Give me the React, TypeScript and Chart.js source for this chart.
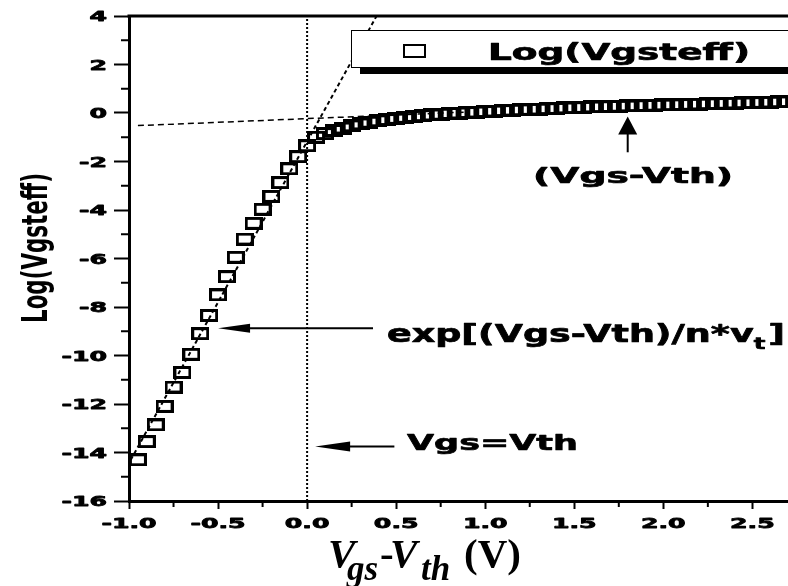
import React, { useEffect, useRef } from 'react';
import { Chart, registerables } from 'chart.js';

Chart.register(...registerables);

// ---- data ----
const vgsMinusVth = [
  -0.95, -0.9, -0.85, -0.8, -0.75, -0.7, -0.65, -0.6, -0.55, -0.5,
  -0.45, -0.4, -0.35, -0.3, -0.25, -0.2, -0.15, -0.1, -0.05, 0.0,
  0.05, 0.1, 0.15, 0.2, 0.25, 0.3, 0.35, 0.4, 0.45, 0.5,
  0.55, 0.6, 0.65, 0.7, 0.75, 0.8, 0.85, 0.9, 0.95, 1.0,
  1.05, 1.1, 1.15, 1.2, 1.25, 1.3, 1.35, 1.4, 1.45, 1.5,
  1.55, 1.6, 1.65, 1.7, 1.75, 1.8, 1.85, 1.9, 1.95, 2.0,
  2.05, 2.1, 2.15, 2.2, 2.25, 2.3, 2.35, 2.4, 2.45, 2.5,
  2.55, 2.6, 2.65, 2.7,
];
const logVgsteff = [
  -14.3, -13.55, -12.86, -12.1, -11.3, -10.7, -9.95, -9.1, -8.35, -7.5,
  -6.75, -5.95, -5.2, -4.55, -3.97, -3.44, -2.87, -2.3, -1.8, -1.35,
  -1.0, -0.85, -0.72, -0.62, -0.53, -0.45, -0.38, -0.32, -0.27, -0.22,
  -0.18, -0.14, -0.11, -0.08, -0.05, -0.02, 0.0, 0.02, 0.04, 0.06,
  0.08, 0.1, 0.12, 0.13, 0.15, 0.16, 0.18, 0.19, 0.21, 0.22,
  0.23, 0.25, 0.26, 0.27, 0.28, 0.29, 0.3, 0.31, 0.32, 0.33,
  0.34, 0.35, 0.36, 0.37, 0.38, 0.39, 0.4, 0.41, 0.42, 0.43,
  0.44, 0.45, 0.46, 0.47,
];

// reference lines
const strongTangentX = [-0.95, 0.9];
const strongTangentY = [-0.52, 0.04];
const weakTangentX = [-0.99, 0.39];
const weakTangentY = [-14.3, 4.0];
const thresholdX = [0, 0];
const thresholdY = [-16, 4];

// tick labels
const xTickValues = [-1.0, -0.5, 0.0, 0.5, 1.0, 1.5, 2.0, 2.5];
const xTickLabels = ['-1.0', '-0.5', '0.0', '0.5', '1.0', '1.5', '2.0', '2.5'];
const yTickValues = [-16, -14, -12, -10, -8, -6, -4, -2, 0, 2, 4];
const yTickLabels = ['-16', '-14', '-12', '-10', '-8', '-6', '-4', '-2', '0', '2', '4'];

const seriesName = 'Log(Vgsteff)';

const SANS = '"DejaVu Sans", "Liberation Sans", Arial, sans-serif';
const SERIF = '"Liberation Serif", "Times New Roman", serif';

function isMajorX(v: number) {
  return Math.abs(v * 2 - Math.round(v * 2)) < 1e-6;
}
function isMajorY(v: number) {
  return Math.abs(v / 2 - Math.round(v / 2)) < 1e-6;
}

function textW(ctx: CanvasRenderingContext2D, text: string, font: string) {
  ctx.save();
  ctx.font = font;
  const w = ctx.measureText(text).width;
  ctx.restore();
  return w;
}

function stretched(
  ctx: CanvasRenderingContext2D,
  text: string,
  x: number,
  y: number,
  font: string,
  sx: number,
  align: 'left' | 'center' | 'right',
  heavy = 0.7
) {
  ctx.save();
  ctx.font = font;
  ctx.fillStyle = '#000';
  ctx.strokeStyle = '#000';
  ctx.textAlign = 'left';
  ctx.textBaseline = 'alphabetic';
  const w = ctx.measureText(text).width * sx;
  let left = x;
  if (align === 'center') left = x - w / 2;
  else if (align === 'right') left = x - w;
  ctx.translate(left, y);
  ctx.scale(sx, 1);
  ctx.fillText(text, 0, 0);
  if (heavy > 0) {
    ctx.lineWidth = heavy;
    ctx.lineJoin = 'round';
    ctx.strokeText(text, 0, 0);
  }
  ctx.restore();
  return w;
}

function arrow(ctx: CanvasRenderingContext2D, x0: number, y0: number, x1: number, y1: number, headLen: number, headHalf: number) {
  const dx = x1 - x0;
  const dy = y1 - y0;
  const len = Math.hypot(dx, dy);
  const ux = dx / len;
  const uy = dy / len;
  const bx = x1 - ux * headLen;
  const by = y1 - uy * headLen;
  ctx.save();
  ctx.strokeStyle = '#000';
  ctx.fillStyle = '#000';
  ctx.lineWidth = 2;
  ctx.beginPath();
  ctx.moveTo(x0, y0);
  ctx.lineTo(bx + ux * 2, by + uy * 2);
  ctx.stroke();
  ctx.beginPath();
  ctx.moveTo(x1, y1);
  ctx.lineTo(bx - uy * headHalf, by + ux * headHalf);
  ctx.lineTo(bx + uy * headHalf, by - ux * headHalf);
  ctx.closePath();
  ctx.fill();
  ctx.restore();
}

function makeMarker(w: number, h: number, lw: number) {
  const c = document.createElement('canvas');
  c.width = w;
  c.height = h;
  const g = c.getContext('2d')!;
  g.strokeStyle = '#000';
  g.lineWidth = lw;
  g.strokeRect(lw / 2, lw / 2, w - lw, h - lw);
  return c;
}

const decorPlugin = {
  id: 'decor',
  afterDraw(chart: any) {
    const ctx: CanvasRenderingContext2D = chart.ctx;
    const xs = chart.scales.x;
    const ys = chart.scales.y;
    const area = chart.chartArea;

    // top frame line
    ctx.save();
    ctx.strokeStyle = '#000';
    ctx.lineWidth = 3;
    ctx.beginPath();
    ctx.moveTo(area.left - 1.5, area.top);
    ctx.lineTo(area.right + 2, area.top);
    ctx.stroke();
    ctx.restore();

    // minor ticks
    ctx.save();
    ctx.strokeStyle = '#000';
    ctx.lineWidth = 2;
    for (const t of xs.ticks) {
      if (!isMajorX(t.value)) {
        const px = xs.getPixelForValue(t.value);
        ctx.beginPath();
        ctx.moveTo(px, area.bottom);
        ctx.lineTo(px, area.bottom + 6);
        ctx.stroke();
      }
    }
    for (const t of ys.ticks) {
      if (!isMajorY(t.value)) {
        const py = ys.getPixelForValue(t.value);
        ctx.beginPath();
        ctx.moveTo(area.left, py);
        ctx.lineTo(area.left - 8, py);
        ctx.stroke();
      }
    }
    ctx.restore();

    // tick labels
    const tickFont = `bold 14px ${SANS}`;
    xTickValues.forEach((v, i) => {
      stretched(ctx, xTickLabels[i], xs.getPixelForValue(v), area.bottom + 27, tickFont, 1.8, 'center', 0.8);
    });
    yTickValues.forEach((v, i) => {
      stretched(ctx, yTickLabels[i], area.left - 22, ys.getPixelForValue(v) + 5, tickFont, 1.8, 'right', 0.8);
    });

    // y title (rotated)
    ctx.save();
    const ytF = `bold 24px ${SANS}`;
    const ytW = textW(ctx, seriesName, ytF);
    ctx.font = ytF;
    ctx.fillStyle = '#000';
    ctx.textAlign = 'center';
    ctx.textBaseline = 'alphabetic';
    ctx.translate(47, 248);
    ctx.rotate(-Math.PI / 2);
    ctx.scale(150 / ytW, 1.5);
    ctx.fillText(seriesName, 0, 0);
    ctx.restore();

    // x title: V_gs - V_th (V)
    ctx.save();
    ctx.fillStyle = '#000';
    ctx.textAlign = 'left';
    ctx.textBaseline = 'alphabetic';
    const mainF = `italic bold 41px ${SERIF}`;
    const subF = `italic bold 35px ${SERIF}`;
    ctx.font = mainF;
    ctx.fillText('V', 328, 567);
    ctx.font = subF;
    ctx.fillText('gs', 347, 580);
    ctx.font = `bold 41px ${SERIF}`;
    ctx.fillText('-', 380, 567);
    ctx.font = mainF;
    ctx.fillText('V', 390, 567);
    ctx.font = subF;
    ctx.fillText('th', 421, 580);
    ctx.font = `bold 41px ${SERIF}`;
    ctx.fillText('(V)', 464, 567);
    ctx.restore();

    // arrows
    arrow(ctx, xs.getPixelForValue(1.8), ys.getPixelForValue(-1.62), xs.getPixelForValue(1.8), ys.getPixelForValue(-0.14), 18, 9.5);
    arrow(ctx, xs.getPixelForValue(0.37), ys.getPixelForValue(-8.88), xs.getPixelForValue(-0.5), ys.getPixelForValue(-8.88), 32, 4.5);
    arrow(ctx, xs.getPixelForValue(0.49), ys.getPixelForValue(-13.75), xs.getPixelForValue(0.045), ys.getPixelForValue(-13.75), 35, 5);

    // annotation texts
    const annF = `bold 22px ${SANS}`;
    const p0 = '(Vgs-Vth)';
    stretched(ctx, p0, 633, 183, annF, 200 / textW(ctx, p0, annF), 'center');

    const expF = `bold 24px ${SANS}`;
    const expSubF = `bold 16px ${SANS}`;
    const p1 = 'exp[(Vgs-Vth)/n*v';
    const natural = textW(ctx, p1, expF) + textW(ctx, 't', expSubF) + 2 + textW(ctx, ']', expF);
    const sxE = 398 / natural;
    let ex = 387;
    ex += stretched(ctx, p1, ex, 342, expF, sxE, 'left');
    ex += stretched(ctx, 't', ex, 349, expSubF, sxE, 'left') + 2 * sxE;
    stretched(ctx, ']', ex, 342, expF, sxE, 'left');

    const vthText = 'Vgs=Vth';
    stretched(ctx, vthText, 407, 450, annF, 171 / textW(ctx, vthText, annF), 'left');

    // legend box
    ctx.save();
    ctx.fillStyle = '#000';
    ctx.fillRect(360, 68, 440, 6);
    ctx.fillStyle = '#fff';
    ctx.fillRect(351, 30, 450, 38);
    ctx.strokeStyle = '#000';
    ctx.lineWidth = 1;
    ctx.strokeRect(351.5, 30.5, 450, 37);
    ctx.lineWidth = 2;
    ctx.strokeRect(404, 45, 21, 12);
    ctx.restore();
    const legF = `bold 23px ${SANS}`;
    stretched(ctx, seriesName, 488, 60, legF, 262 / textW(ctx, seriesName, legF), 'left');
  },
};

export default function App() {
  const ref = useRef<HTMLCanvasElement | null>(null);

  useEffect(() => {
    if (!ref.current) return;
    const marker = makeMarker(18, 13, 3);
    const toPts = (xa: number[], ya: number[]) => xa.map((x, i) => ({ x, y: ya[i] }));
    const chart = new Chart(ref.current, {
      type: 'scatter',
      data: {
        datasets: [
          {
            label: seriesName,
            data: toPts(vgsMinusVth, logVgsteff),
            pointStyle: marker as any,
            pointRadius: 8,
            borderColor: '#000',
            backgroundColor: 'rgba(0,0,0,0)',
            showLine: false,
          },
          {
            label: 'strong inversion asymptote',
            data: toPts(strongTangentX, strongTangentY),
            showLine: true,
            pointRadius: 0,
            borderColor: '#000',
            borderWidth: 1.5,
            borderDash: [6, 4],
          },
          {
            label: 'subthreshold asymptote',
            data: toPts(weakTangentX, weakTangentY),
            showLine: true,
            pointRadius: 0,
            borderColor: '#000',
            borderWidth: 2,
            borderDash: [4, 3],
          },
          {
            label: 'Vgs=Vth',
            data: toPts(thresholdX, thresholdY),
            showLine: true,
            pointRadius: 0,
            borderColor: '#000',
            borderWidth: 2,
            borderDash: [2, 2],
          },
        ],
      },
      options: {
        responsive: false,
        animation: false,
        devicePixelRatio: 1,
        events: [],
        layout: { autoPadding: false, padding: { top: 16, right: 0, left: 0, bottom: 0 } },
        plugins: {
          legend: { display: false },
          tooltip: { enabled: false },
          title: { display: false },
        },
        scales: {
          x: {
            type: 'linear',
            min: -1,
            max: 2.7,
            afterFit: (s: any) => {
              s.height = 85;
            },
            ticks: {
              stepSize: 0.25,
              includeBounds: false,
              autoSkip: false,
              maxRotation: 0,
              callback: () => '',
            },
            grid: {
              drawOnChartArea: false,
              drawTicks: true,
              tickLength: 8,
              tickWidth: 2,
              tickColor: (c: any) => (c.tick && isMajorX(c.tick.value) ? '#000' : 'rgba(0,0,0,0)'),
            },
            border: { display: true, color: '#000', width: 3 },
          },
          y: {
            type: 'linear',
            min: -16,
            max: 4,
            afterFit: (s: any) => {
              s.width = 129;
            },
            ticks: {
              stepSize: 1,
              includeBounds: false,
              autoSkip: false,
              callback: () => '',
            },
            grid: {
              drawOnChartArea: false,
              drawTicks: true,
              tickLength: 15,
              tickWidth: 2,
              tickColor: (c: any) => (c.tick && isMajorY(c.tick.value) ? '#000' : 'rgba(0,0,0,0)'),
            },
            border: { display: true, color: '#000', width: 3 },
          },
        },
      } as any,
      plugins: [decorPlugin],
    });
    return () => chart.destroy();
  }, []);

  return (
    <div style={{ position: 'absolute', left: 0, top: 0, width: 788, height: 586, background: '#fff' }}>
      <canvas ref={ref} width={788} height={586} style={{ display: 'block' }} />
    </div>
  );
}
